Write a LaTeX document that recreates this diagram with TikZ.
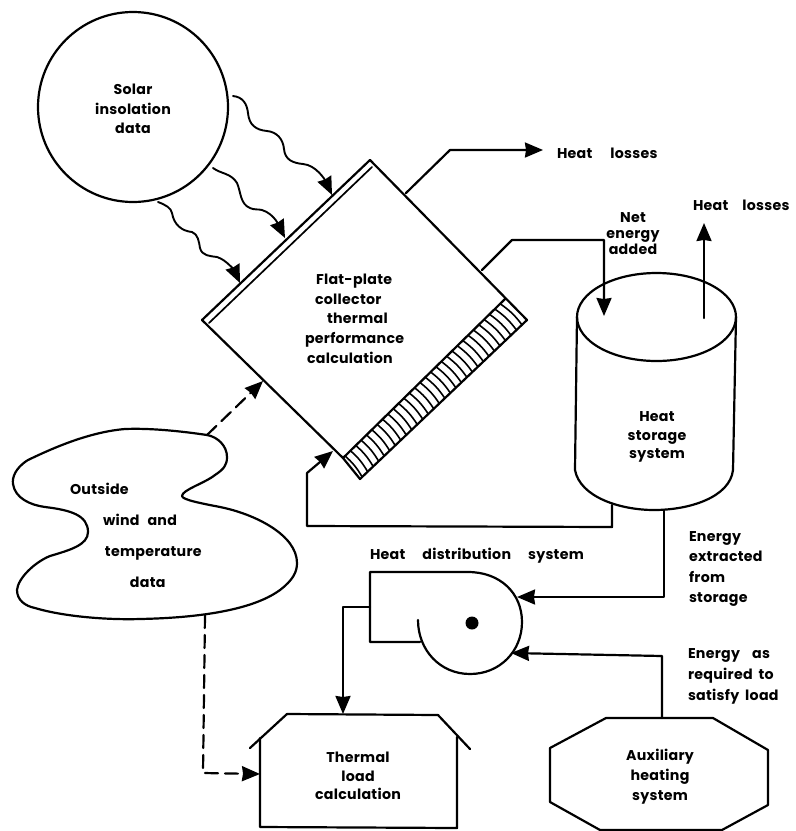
\documentclass[tikz,border=0pt]{standalone}
\usepackage{fontspec}
\setmainfont{Poppins}[LetterSpace=2.0]
\usetikzlibrary{arrows.meta,calc}
\tikzset{
  x=1pt,y=-1pt,
  line/.style={line width=2.2pt,line join=round,line cap=round},
  tipped/.style={-{Stealth[length=18pt,width=15pt,inset=1pt]}},
  flow/.style={line,tipped},
  dash link/.style={line,tipped,dash pattern=on 13pt off 7pt},
  wave/.style={line,line width=1.9pt,tipped},
  lab/.style={inner sep=0pt,outer sep=0pt,align=center,font=\fontsize{14.2}{#1}\selectfont\bfseries},
  lab/.default=19,
  labl/.style={inner sep=0pt,outer sep=0pt,anchor=west,align=left,font=\fontsize{14.2}{#1}\selectfont\bfseries},
  labl/.default=19,
  hatch/.style={line,line width=1.6pt}
}
\begin{document}
\begin{tikzpicture}
\useasboundingbox (0,0) rectangle (796,831);
% solar circle
\node[line,draw,circle,minimum size=190pt,inner sep=0pt] (solar) at (133,107) {};
\node[lab=19.5] (solartext) at (133,109) {Solar\\insolation\\data};
% collector
\coordinate (top) at (370,160);
\coordinate (left) at (202,320);
\coordinate (topi) at (372,167);
\coordinate (lefti) at (209,323);
\coordinate (righto) at (527,320);
\coordinate (botto) at (360,479);
\coordinate (righti) at (505,299);
\coordinate (botti) at (343,458);
\draw[line] (left) -- (top) -- (righto) -- (botto) -- (botti) -- (left) -- cycle;
\draw[line,line width=1.7pt] (lefti) -- (topi);
\draw[line] (righti) -- (botti);
\foreach \t in {0.03,0.063,...,0.99}{
  \draw[hatch] ($(righti)!\t!(botti)$) to[bend left=9] ($(righto)!\t!(botto)$);
}
\node[labl=19.7] (flat) at (305,318.5) {\hspace*{11pt}Flat-plate\\\hspace*{10pt}collector\\\hspace*{22pt}thermal\\performance\\\hspace*{2pt}calculation};
% heat losses 1
\coordinate (c1a) at (406,193);
\coordinate (c1b) at (450,150);
\coordinate (c1c) at (543,150);
\draw[flow] (c1a) -- (c1b) -- (c1c);
\node[labl] (hl1) at (557,153) {Heat\hspace{18pt}losses};
% cylinder
\coordinate (cylL) at (577,317);
\coordinate (cylR) at (736,317);
\coordinate (cylLb) at (575,470);
\coordinate (cylRb) at (733,470);
\draw[line] (656.5,317) ellipse [x radius=79.5,y radius=44];
\draw[line] (cylL) -- (cylLb) .. controls (580,497) and (620,510) .. (654,510) .. controls (690,510) and (730,497) .. (cylRb) -- (cylR);
\node[lab=18.5] (storage) at (657,437) {Heat\\storage\\system};
% net energy
\coordinate (n1) at (482,270);
\coordinate (n2) at (512,240);
\coordinate (n3) at (604,240);
\coordinate (n4) at (604,316);
\draw[flow] (n1) -- (n2) -- (n3) -- (n4);
\node[lab=16] (net) at (633,234) {Net\\energy\\added};
\coordinate (u1) at (704,318);
\coordinate (u2) at (704,223);
\draw[flow] (u1) -- (u2);
\node[labl] (hl2) at (693,205) {Heat\hspace{14pt}losses};
% wavy
\coordinate (w1a) at (233,96);
\coordinate (w1b) at (332,195);
\coordinate (w2a) at (213,168);
\coordinate (w2b) at (285,238);
\coordinate (w3a) at (158,202);
\coordinate (w3b) at (240,283);
\draw[wave] (w1a) .. controls (243,97) and (247,104) .. (248,113) .. controls (249,125) and (256,130) .. (267,131) .. controls (277,132) and (283,139) .. (284,149) .. controls (285,160) and (293,163) .. (303,164) .. controls (316,165) and (325,180) .. (w1b);
\draw[wave] (w2a) .. controls (221,174) and (231,173) .. (237,183) .. controls (241,192) and (240,204) .. (250,208) .. controls (254,210) and (258,209) .. (262,210) .. controls (275,214) and (280,228) .. (w2b);
\draw[wave] (w3a) .. controls (166,205) and (171,208) .. (172,213) .. controls (174,225) and (182,231) .. (192,232) .. controls (198,234) and (199,242) .. (200,248) .. controls (202,256) and (210,256) .. (217,257) .. controls (227,260) and (235,272) .. (w3b);
% cloud
\coordinate (d1) at (207,435);
\draw[line] (d1) .. controls (180,431) and (150,428) .. (125,429) .. controls (90,432) and (55,447) .. (28,460) .. controls (15,468) and (12,478) .. (13,484) .. controls (15,498) and (30,505) .. (45,507) .. controls (70,510) and (88,515) .. (88,532) .. controls (88,545) and (70,550) .. (50,556) .. controls (35,562) and (18,578) .. (17,590) .. controls (17,600) and (25,606) .. (35,608) .. controls (65,617) and (110,620) .. (140,619) .. controls (190,618) and (250,612) .. (280,590) .. controls (293,580) and (297,572) .. (297,563) .. controls (297,535) and (255,514) .. (220,507) .. controls (205,504) and (182,500) .. (182,496) .. controls (182,490) and (205,483) .. (215,475) .. controls (224,469) and (227,465) .. (227,457) .. controls (227,446) and (218,437) .. (d1) -- cycle;
\node[labl=31] (outside) at (70,535) {Outside\\\hspace*{33pt}wind\hspace{8pt}and\\\hspace*{35pt}temperature\\\hspace*{60pt}data};
\coordinate (d2) at (263,381);
\draw[dash link] (d1) -- (d2);
\coordinate (d3) at (205,615);
\coordinate (d4) at (203,773);
\coordinate (d5) at (260,774);
\draw[dash link] (d3) -- (d4) -- (d5);
% return
\coordinate (r1) at (612,505);
\coordinate (r2) at (612,527);
\coordinate (r3) at (307,526);
\coordinate (r4) at (307,473);
\coordinate (r5) at (333,451);
\draw[flow] (r1) -- (r2) -- (r3) -- (r4) -- (r5);
% fan
\coordinate (f1) at (370,572);
\coordinate (f2) at (370,642);
\coordinate (f3) at (420,642);
\draw[line] (418,620) .. controls (418,650) and (440,674) .. (470,674) .. controls (500,674) and (522,651) .. (522,622) .. controls (522,593) and (500,572) .. (468,572) -- (f1) -- (f2) -- (f3);
\fill (472,623) circle (6.5);
\node[labl] (dist) at (370,556) {Heat\hspace{17pt}distribution\hspace{17pt}system};
% extracted
\coordinate (e1) at (664,510);
\coordinate (e2) at (664,597);
\coordinate (e3) at (517,597);
\draw[flow] (e1) -- (e2) -- (e3);
\node[labl=20.6] (extracted) at (689,569) {Energy\\extracted\\from\\storage};
% required
\coordinate (a1) at (662,718);
\coordinate (a2) at (662,656);
\coordinate (a3) at (511,653);
\draw[flow] (a1) -- (a2) -- (a3);
\node[labl=21] (required) at (688,676) {Energy\hspace{12pt}as\\required\hspace{6pt}to\\satisfy\hspace{6pt}load};
% octagon
\draw[line] (606,718) -- (713,718) -- (768,750) -- (768,805) -- (722,830) -- (600,830) -- (550,802) -- (550,748) -- cycle;
\node[lab=20] (aux) at (660,777) {Auxiliary\\heating\\system};
% thermal
\coordinate (t1) at (370,607);
\coordinate (t2) at (343,607);
\coordinate (t3) at (343,714);
\draw[flow] (t1) -- (t2) -- (t3);
\draw[line] (250,748) -- (287,714) -- (438,715) -- (470,749);
\draw[line] (260,738) -- (260,827) -- (457,828) -- (457,737);
\node[lab=18.5] (load) at (358,776) {Thermal\\load\\calculation};
\end{tikzpicture}
\end{document}
